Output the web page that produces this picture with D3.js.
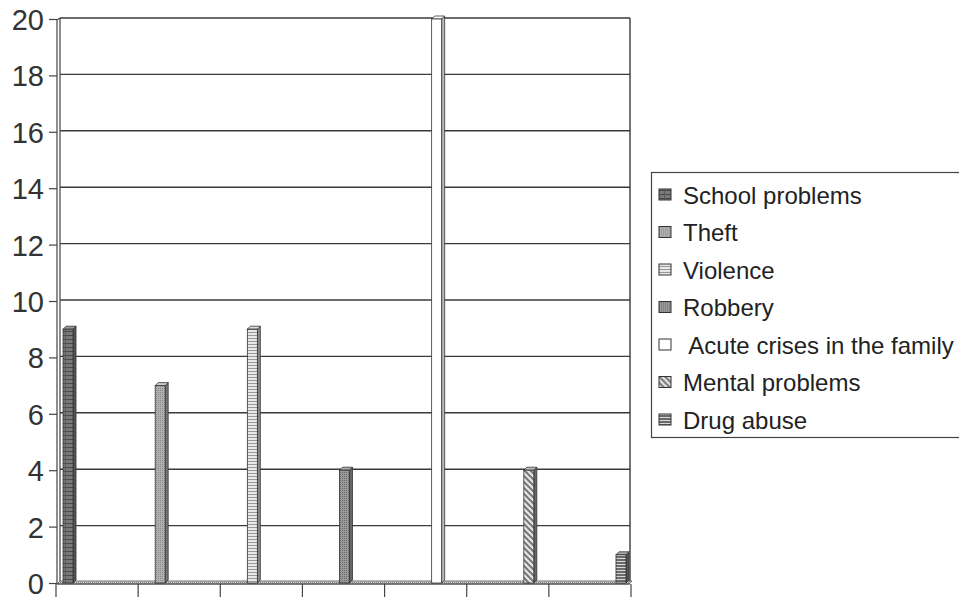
<!DOCTYPE html>
<html>
<head>
<meta charset="utf-8">
<script src="https://cdn.jsdelivr.net/npm/d3@7"></script>
<style>
  html, body { margin: 0; padding: 0; background: #fff; }
  svg { display: block; font-family: "Liberation Sans", Arial, sans-serif; }
</style>
</head>
<body>
<svg id="chart" width="959" height="597"></svg>
<script>
// Reasons for referral: one series per reason, each plotted in its own category slot
const seriesNames = [
  "School problems",
  "Theft",
  "Violence",
  "Robbery",
  " Acute crises in the family",
  "Mental problems",
  "Drug abuse"
];
const seriesValues = [9, 7, 9, 4, 20, 4, 1];
const categories = ["1", "2", "3", "4", "5", "6", "7"];
const yTicks = [0, 2, 4, 6, 8, 10, 12, 14, 16, 18, 20];
const patternIds = ["pSchool", "pTheft", "pViolence", "pRobbery", "pAcute", "pMental", "pDrug"];
const sideColors = ["#555", "#777", "#888", "#666", "#bbb", "#666", "#555"];
const topColors  = ["#999", "#ccc", "#ddd", "#aaa", "#fff", "#bbb", "#aaa"];

const svg = d3.select("#chart");
const plot = { left: 55, right: 630, top: 19, bottom: 583 };
const depth = 3;

// Fill patterns for the bars and legend keys
const defs = svg.append("defs");
function pat(id, w, h) {
  return defs.append("pattern").attr("id", id).attr("patternUnits", "userSpaceOnUse")
    .attr("width", w).attr("height", h);
}
let p = pat("pSchool", 10, 4);
p.append("rect").attr("width", 10).attr("height", 4).attr("fill", "#7a7a7a");
p.append("rect").attr("y", 3).attr("width", 10).attr("height", 1).attr("fill", "#4a4a4a");
p.append("rect").attr("x", 5).attr("width", 1).attr("height", 4).attr("fill", "#5a5a5a");
p = pat("pTheft", 2, 2);
p.append("rect").attr("width", 2).attr("height", 2).attr("fill", "#b0b0b0");
p.append("rect").attr("width", 1).attr("height", 1).attr("fill", "#8a8a8a");
p = pat("pViolence", 4, 3);
p.append("rect").attr("width", 4).attr("height", 3).attr("fill", "#e8e8e8");
p.append("rect").attr("y", 2).attr("width", 4).attr("height", 1).attr("fill", "#9a9a9a");
p = pat("pRobbery", 2, 2);
p.append("rect").attr("width", 2).attr("height", 2).attr("fill", "#9a9a9a");
p.append("rect").attr("width", 1).attr("height", 1).attr("fill", "#6a6a6a");
p = pat("pAcute", 4, 4);
p.append("rect").attr("width", 4).attr("height", 4).attr("fill", "#ffffff");
p = pat("pMental", 6, 6);
p.append("rect").attr("width", 6).attr("height", 6).attr("fill", "#e6e6e6");
p.append("path").attr("d", "M-1,-1 L7,7 M-1,5 L1,7 M5,-1 L7,1").attr("stroke", "#777").attr("stroke-width", 2);
p = pat("pDrug", 4, 3);
p.append("rect").attr("width", 4).attr("height", 3).attr("fill", "#d8d8d8");
p.append("rect").attr("y", 1).attr("width", 4).attr("height", 2).attr("fill", "#6a6a6a");
p = pat("pFloor", 2, 2);
p.append("rect").attr("width", 2).attr("height", 2).attr("fill", "#d0d0d0");
p.append("rect").attr("width", 1).attr("height", 1).attr("fill", "#888");

const x = d3.scaleBand().domain(categories).range([plot.left, plot.right]).padding(0);
const xInner = d3.scaleBand().domain(seriesNames).range([0, x.bandwidth()])
  .paddingInner(0).paddingOuter(0.6);
const y = d3.scaleLinear().domain([0, 20]).range([plot.bottom, plot.top]);

// Back wall gridlines
svg.append("g").selectAll("line").data(yTicks).join("line")
  .attr("x1", plot.left + depth + 2).attr("x2", plot.right)
  .attr("y1", d => y(d) - 1).attr("y2", d => y(d) - 1)
  .attr("stroke", "#3a3a3a").attr("stroke-width", 1.4);

// Right border of back wall
svg.append("line").attr("x1", plot.right).attr("x2", plot.right)
  .attr("y1", y(20) - 1).attr("y2", plot.bottom)
  .attr("stroke", "#3a3a3a").attr("stroke-width", 1.4);

// Left side wall (thin)
svg.append("line").attr("x1", plot.left + 2).attr("x2", plot.left + 2)
  .attr("y1", y(20) + 1).attr("y2", plot.bottom + 1).attr("stroke", "#444").attr("stroke-width", 1.2);
svg.append("line").attr("x1", plot.left + depth + 2).attr("x2", plot.left + depth + 2)
  .attr("y1", y(20) - 1).attr("y2", plot.bottom - 2).attr("stroke", "#444").attr("stroke-width", 1.2);
svg.append("line").attr("x1", plot.left + 2).attr("x2", plot.left + depth + 2)
  .attr("y1", y(20) + 1).attr("y2", y(20) - 1).attr("stroke", "#444").attr("stroke-width", 1.2);

// Floor
svg.append("path")
  .attr("d", `M${plot.left + 2},${plot.bottom + 1} L${plot.left + depth + 2},${plot.bottom - 2} L${plot.right + 2},${plot.bottom - 2} L${plot.right - 1},${plot.bottom + 1} Z`)
  .attr("fill", "url(#pFloor)").attr("stroke", "#555").attr("stroke-width", 0.8);

// Y axis
const yAxis = d3.axisLeft(y).tickValues(yTicks).tickSize(8).tickPadding(5).tickSizeOuter(0);
const gy = svg.append("g").attr("transform", `translate(${plot.left + 2},0)`).call(yAxis);
gy.select(".domain").remove();
gy.selectAll(".tick line").attr("stroke", "#444").attr("stroke-width", 1.2);
gy.selectAll(".tick text").attr("font-size", 29).attr("fill", "#333")
  .attr("font-family", "Liberation Sans, Arial, sans-serif").attr("dy", "0.36em");

// X axis (category ticks, no labels)
const xTicks = x.domain().map(c => x(c)).concat([plot.right]);
svg.append("g").selectAll("line").data(xTicks).join("line")
  .attr("x1", d => d + 1).attr("x2", d => d + 1)
  .attr("y1", plot.bottom + 1).attr("y2", plot.bottom + 14)
  .attr("stroke", "#444").attr("stroke-width", 1.2);
svg.append("line").attr("x1", plot.left + 2).attr("x2", plot.right)
  .attr("y1", plot.bottom + 1).attr("y2", plot.bottom + 1).attr("stroke", "#444").attr("stroke-width", 1);

// Bars: series i sits in category i
const barW = 10;
const bars = svg.append("g").selectAll("g").data(seriesNames.map((n, i) => ({
  name: n, value: seriesValues[i], cat: categories[i], i
}))).join("g");
bars.each(function(d) {
  const g = d3.select(this);
  const x0 = x(d.cat) + xInner(d.name) + xInner.bandwidth() / 2 - barW / 2 + 2;
  const yTop = y(d.value);
  const yBot = plot.bottom;
  // side face
  g.append("path")
    .attr("d", `M${x0 + barW},${yTop} L${x0 + barW + depth},${yTop - depth} L${x0 + barW + depth},${yBot - depth} L${x0 + barW},${yBot} Z`)
    .attr("fill", sideColors[d.i]).attr("stroke", "#333").attr("stroke-width", 0.8);
  // top face
  g.append("path")
    .attr("d", `M${x0},${yTop} L${x0 + depth},${yTop - depth} L${x0 + barW + depth},${yTop - depth} L${x0 + barW},${yTop} Z`)
    .attr("fill", topColors[d.i]).attr("stroke", "#333").attr("stroke-width", 0.8);
  // front face
  g.append("rect").attr("x", x0).attr("y", yTop).attr("width", barW).attr("height", yBot - yTop)
    .attr("fill", `url(#${patternIds[d.i]})`).attr("stroke", "#333").attr("stroke-width", 0.8);
});

// Legend
const legend = svg.append("g");
legend.append("rect").attr("x", 651.5).attr("y", 172.5).attr("width", 330).attr("height", 265)
  .attr("fill", "#fff").attr("stroke", "#444").attr("stroke-width", 1.2);
const li = legend.selectAll("g").data(seriesNames).join("g")
  .attr("transform", (d, i) => `translate(659, ${195 + i * 37.5})`);
li.append("rect").attr("x", 0).attr("y", -6).attr("width", 12).attr("height", 11)
  .attr("fill", (d, i) => `url(#${patternIds[i]})`).attr("stroke", "#333").attr("stroke-width", 1);
li.append("text").attr("x", 24).attr("y", 0).attr("dy", "0.36em")
  .attr("font-size", 24).attr("fill", "#222").style("white-space", "pre")
  .text(d => d);
</script>
</body>
</html>
